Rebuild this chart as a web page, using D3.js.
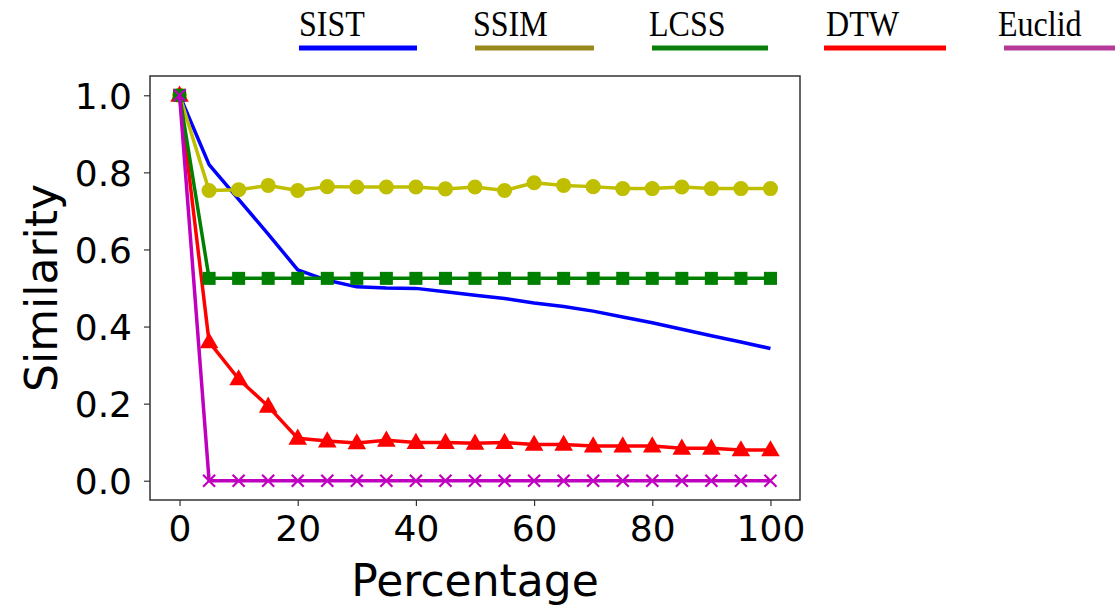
<!DOCTYPE html>
<html>
  <head>
    <title>Similarity vs Percentage</title>
    <meta charset="utf-8">
    <script src="https://cdn.jsdelivr.net/npm/d3@7"></script>
    <style>
      body { margin: 0; background: #fff; }
      .tick text { font-family: "DejaVu Sans", sans-serif; font-size: 36px; fill: #000; }
      .axis-label { font-family: "DejaVu Sans", sans-serif; font-size: 44px; fill: #000; }
      .legend text { font-family: "Liberation Serif", serif; font-size: 36px; fill: #000; }
    </style>
  </head>
  <body>
    <svg id="chart" width="1115" height="605"></svg>
    <script>

    // data
    var percentages = [0, 5, 10, 15, 20, 25, 30, 35, 40, 45, 50, 55, 60, 65, 70, 75, 80, 85, 90, 95, 100];
    var sist   = [1.0, 0.82, 0.73, 0.64, 0.547, 0.52, 0.503, 0.50, 0.499, 0.49, 0.481, 0.473, 0.461, 0.452, 0.44, 0.425, 0.41, 0.393, 0.376, 0.36, 0.343];
    var ssim   = [1.0, 0.753, 0.755, 0.766, 0.753, 0.763, 0.762, 0.762, 0.762, 0.757, 0.762, 0.753, 0.773, 0.766, 0.763, 0.758, 0.758, 0.762, 0.758, 0.758, 0.758];
    var lcss   = [1.0, 0.525, 0.525, 0.525, 0.525, 0.525, 0.525, 0.525, 0.525, 0.525, 0.525, 0.525, 0.525, 0.525, 0.525, 0.525, 0.525, 0.525, 0.525, 0.525, 0.525];
    var dtw    = [1.0, 0.36, 0.264, 0.193, 0.11, 0.103, 0.098, 0.105, 0.099, 0.099, 0.097, 0.099, 0.094, 0.094, 0.09, 0.09, 0.09, 0.084, 0.084, 0.08, 0.08];
    var euclid = [1.0, 0, 0, 0, 0, 0, 0, 0, 0, 0, 0, 0, 0, 0, 0, 0, 0, 0, 0, 0, 0];
    var seriesNames = ["SIST", "SSIM", "LCSS", "DTW", "Euclid"];
    var xTicks = [0, 20, 40, 60, 80, 100];
    var yTicks = [0.0, 0.2, 0.4, 0.6, 0.8, 1.0];

    var plotLeft = 150, plotRight = 800, plotTop = 76, plotBottom = 500;

    var svg = d3.select("#chart");

    var x = d3.scaleLinear().domain([-5, 105]).range([plotLeft, plotRight]);
    var y = d3.scaleLinear().domain([-0.05, 1.05]).range([plotBottom, plotTop]);

    // axes
    var xAxis = svg.append("g")
      .attr("transform", "translate(0," + plotBottom + ")")
      .call(d3.axisBottom(x).tickValues(xTicks).tickSize(6).tickPadding(7).tickFormat(d3.format("d")));
    var yAxis = svg.append("g")
      .attr("transform", "translate(" + plotLeft + ",0)")
      .call(d3.axisLeft(y).tickValues(yTicks).tickSize(6).tickPadding(12).tickFormat(d3.format(".1f")));
    [xAxis, yAxis].forEach(function(a) {
      a.select(".domain").remove();
      a.selectAll(".tick line").attr("stroke", "#333").attr("stroke-width", 1.2);
    });
    xAxis.selectAll(".tick text").attr("dy", "0.78em");
    yAxis.selectAll(".tick text").attr("dy", "0.36em");

    svg.append("rect")
      .attr("x", plotLeft).attr("y", plotTop)
      .attr("width", plotRight - plotLeft).attr("height", plotBottom - plotTop)
      .attr("fill", "none").attr("stroke", "#333").attr("stroke-width", 1.5);

    svg.append("text").attr("class", "axis-label")
      .attr("x", (plotLeft + plotRight) / 2).attr("y", 596)
      .attr("text-anchor", "middle").text("Percentage");
    svg.append("text").attr("class", "axis-label")
      .attr("transform", "translate(57," + (plotTop + plotBottom) / 2 + ") rotate(-90)")
      .attr("text-anchor", "middle").text("Similarity");

    // series (DTW before LCSS so the green square sits on top at 0)
    var series = [
      { name: "SIST", values: sist, color: "#0000ff", marker: null },
      { name: "SSIM", values: ssim, color: "#bfbf00", marker: "circle" },
      { name: "DTW", values: dtw, color: "#ff0000", marker: "triangle" },
      { name: "LCSS", values: lcss, color: "#008000", marker: "square" },
      { name: "Euclid", values: euclid, color: "#bf00bf", marker: "x" }
    ];

    var line = d3.line()
      .x(function(d) { return x(d[0]); })
      .y(function(d) { return y(d[1]); });

    var symbols = {
      circle: d3.symbol().type(d3.symbolCircle).size(180),
      square: d3.symbol().type(d3.symbolSquare).size(170),
      triangle: d3.symbol().type(d3.symbolTriangle).size(150)
    };

    series.forEach(function(s) {
      var pts = percentages.map(function(p, i) { return [p, s.values[i]]; });
      var g = svg.append("g");
      g.append("path")
        .attr("d", line(pts))
        .attr("fill", "none")
        .attr("stroke", s.color)
        .attr("stroke-width", 3.5)
        .attr("stroke-linejoin", "round");
      if (!s.marker) return;
      var m = g.selectAll(".m").data(pts).enter().append("g")
        .attr("transform", function(d) { return "translate(" + x(d[0]) + "," + y(d[1]) + ")"; });
      if (s.marker === "x") {
        m.append("path")
          .attr("d", "M-6,-6L6,6M-6,6L6,-6")
          .attr("stroke", s.color).attr("stroke-width", 2.2).attr("fill", "none");
      } else {
        m.append("path")
          .attr("d", symbols[s.marker]())
          .attr("transform", s.marker === "triangle" ? "translate(0,1)" : null)
          .attr("fill", s.color);
      }
    });

    // legend on top
    var legendColors = ["#0000ff", "#9a8a1c", "#0a7d0a", "#ff0000", "#b63a98"];
    var legendTextX = [299, 473, 649, 826, 998];
    var legendLine = [[299, 417], [475, 594], [652, 768], [824, 946], [1004, 1115]];
    var legend = svg.append("g").attr("class", "legend");
    seriesNames.forEach(function(n, i) {
      legend.append("text")
        .attr("transform", "translate(" + legendTextX[i] + ",36) scale(0.89,1)")
        .text(n);
      legend.append("line")
        .attr("x1", legendLine[i][0]).attr("x2", legendLine[i][1])
        .attr("y1", 48).attr("y2", 48)
        .attr("stroke", legendColors[i]).attr("stroke-width", 5);
    });

    </script>
  </body>
</html>
